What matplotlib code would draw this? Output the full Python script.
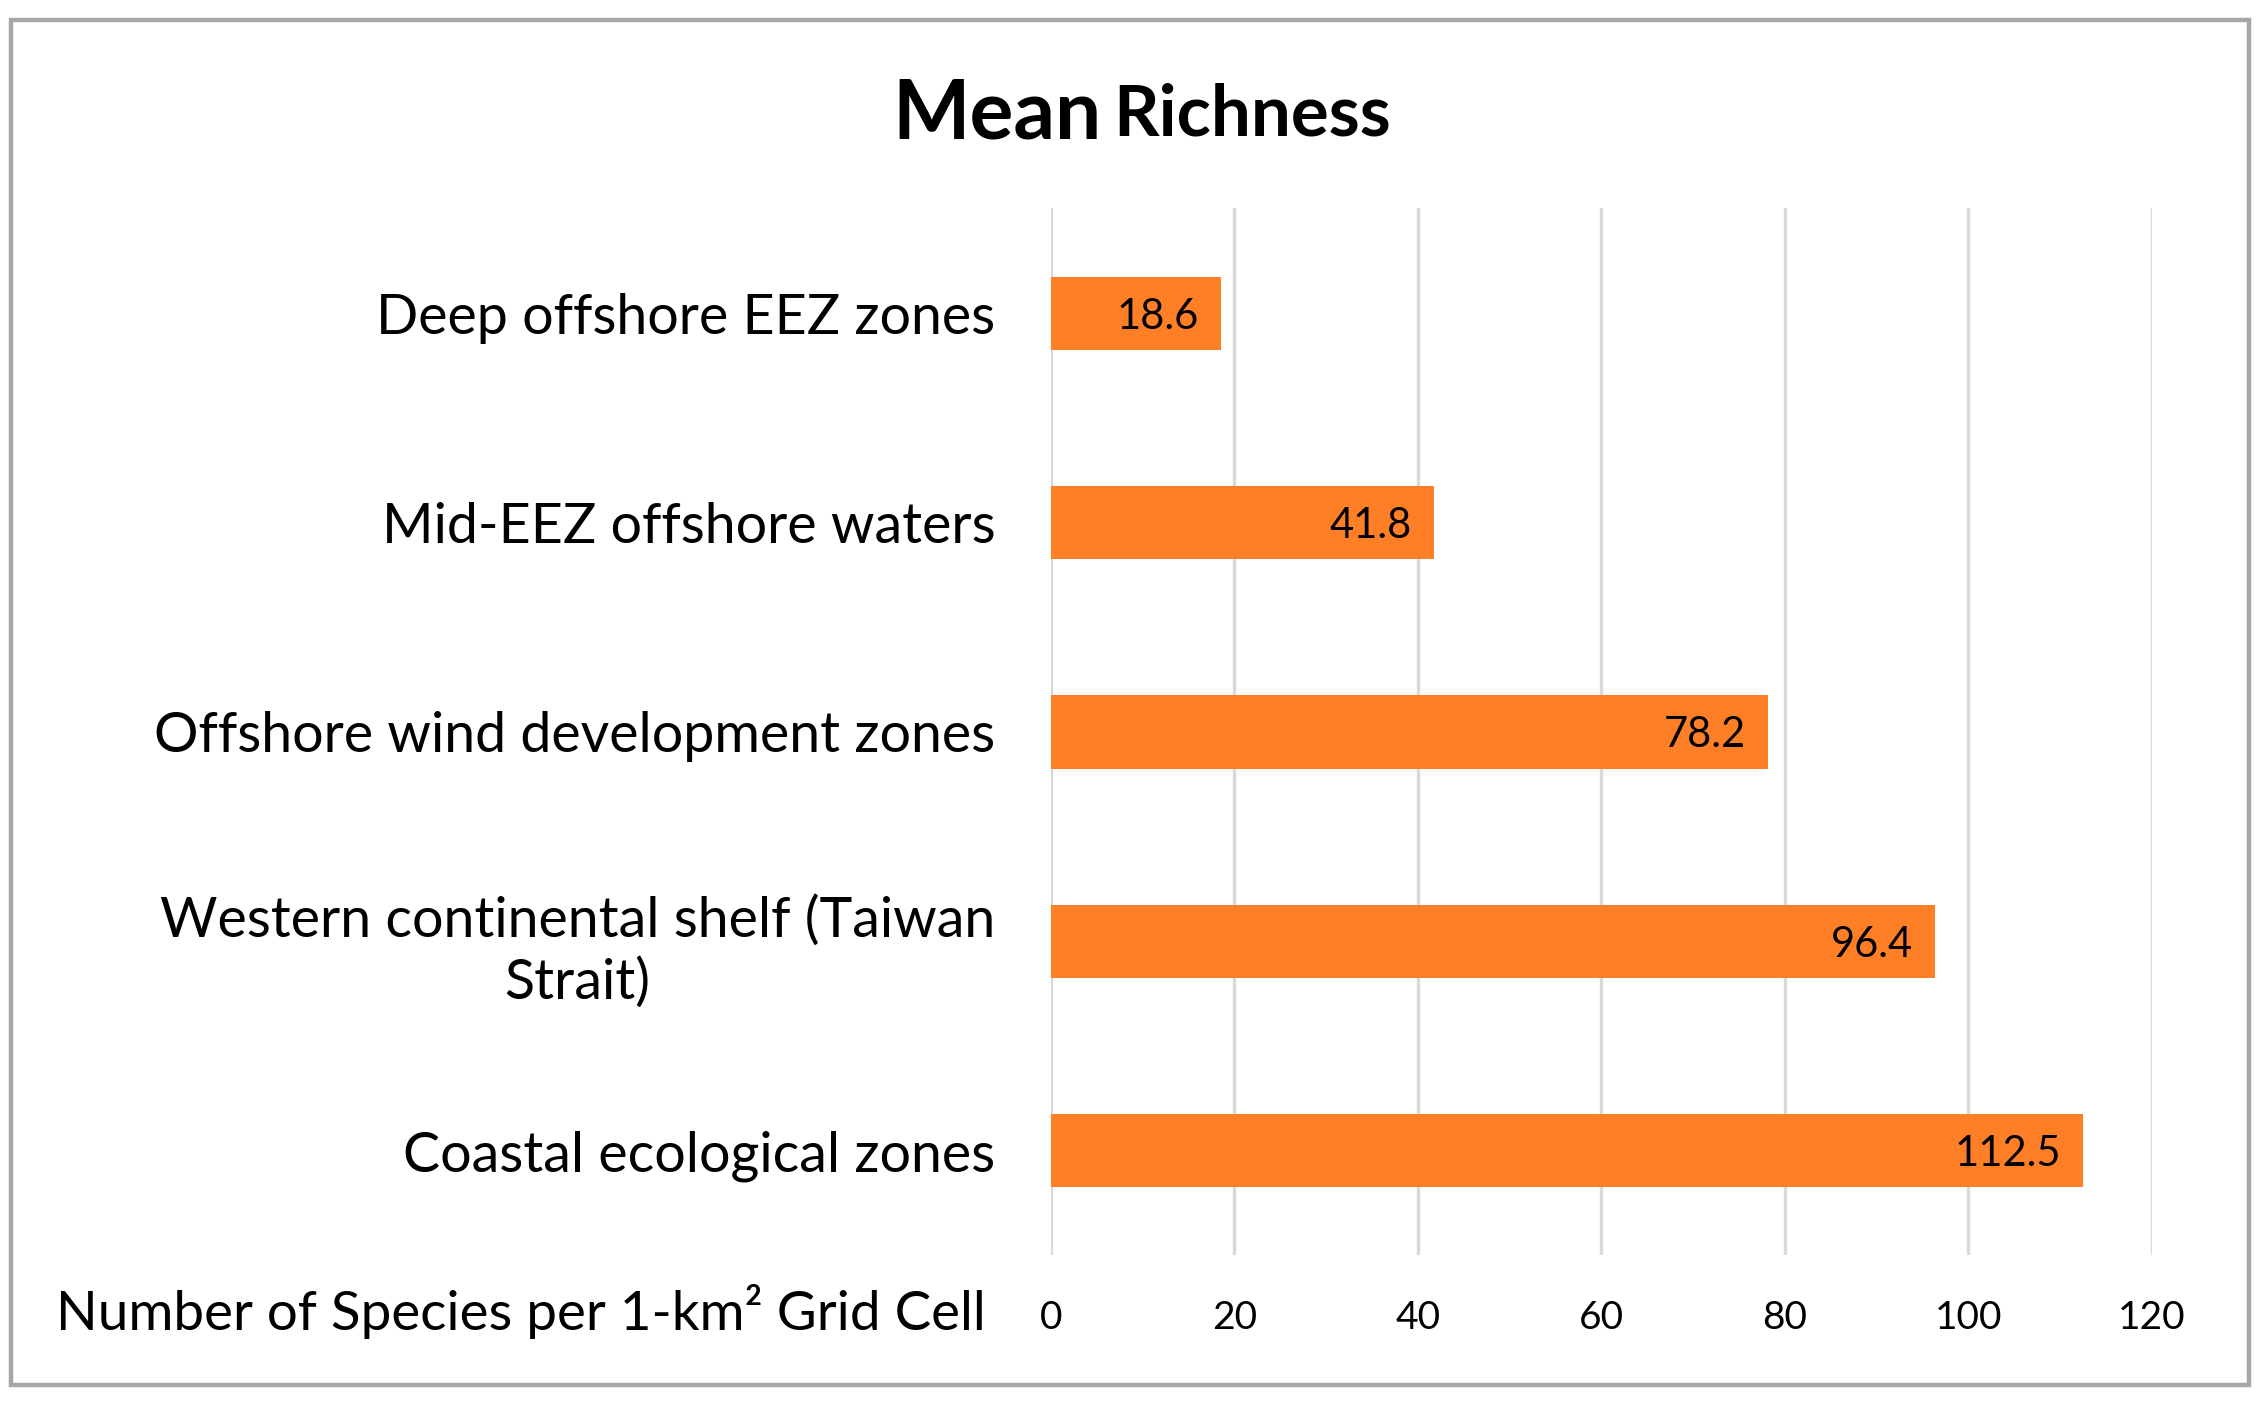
import matplotlib.pyplot as plt
from matplotlib.patches import Rectangle

categories = ['Deep offshore EEZ zones',
              'Mid-EEZ offshore waters',
              'Offshore wind development zones',
              'Western continental shelf (Taiwan\nStrait)',
              'Coastal ecological zones']
values = [18.6, 41.8, 78.2, 96.4, 112.5]
ticks = [0, 20, 40, 60, 80, 100, 120]

plt.rcParams['font.family'] = ['Lato', 'DejaVu Sans']

fig = plt.figure(figsize=(11.315, 7.01), dpi=200)
ax = fig.add_axes([0.4643, 0.1046, 0.4866, 0.7467])

# 横向条形图
y = list(range(len(categories)))
ax.barh(y, values, height=0.35, color='#FF7F27', zorder=3)
ax.set_ylim(len(categories) - 0.5, -0.5)
ax.set_xlim(0, 120)
ax.set_xticks(ticks)
ax.set_yticks(y)
ax.set_yticklabels(categories, fontsize=20, linespacing=1.25, multialignment='center')
ax.tick_params(axis='y', length=0, pad=20)
ax.tick_params(axis='x', length=0, pad=16, labelsize=14)

# 数据标签
for i, v in enumerate(values):
    ax.annotate(f'{v}', (v, i), xytext=(-8, 0), textcoords='offset points',
                ha='right', va='center_baseline', fontsize=15, zorder=4)

ax.grid(axis='x', color='#D9D9D9', linewidth=1.2, zorder=0)
for s in ax.spines.values():
    s.set_visible(False)

# 标题
fig.text(0.487, 0.918, 'Mean', fontsize=29.5, fontweight='bold', ha='right', va='center')
fig.text(0.492, 0.918, 'Richness', fontsize=25.5, fontweight='bold', ha='left', va='center')

# 横坐标名称
fig.text(0.4356, 0.0646, 'Number of Species per 1-km² Grid Cell', fontsize=19.7,
         ha='right', va='center')

# 外框
fig.patches.append(Rectangle((0.005, 0.0123), 0.9886, 0.9733, transform=fig.transFigure,
                             fill=False, edgecolor='#A6A6A6', linewidth=1.6))

fig.savefig('out.png', dpi=200)
